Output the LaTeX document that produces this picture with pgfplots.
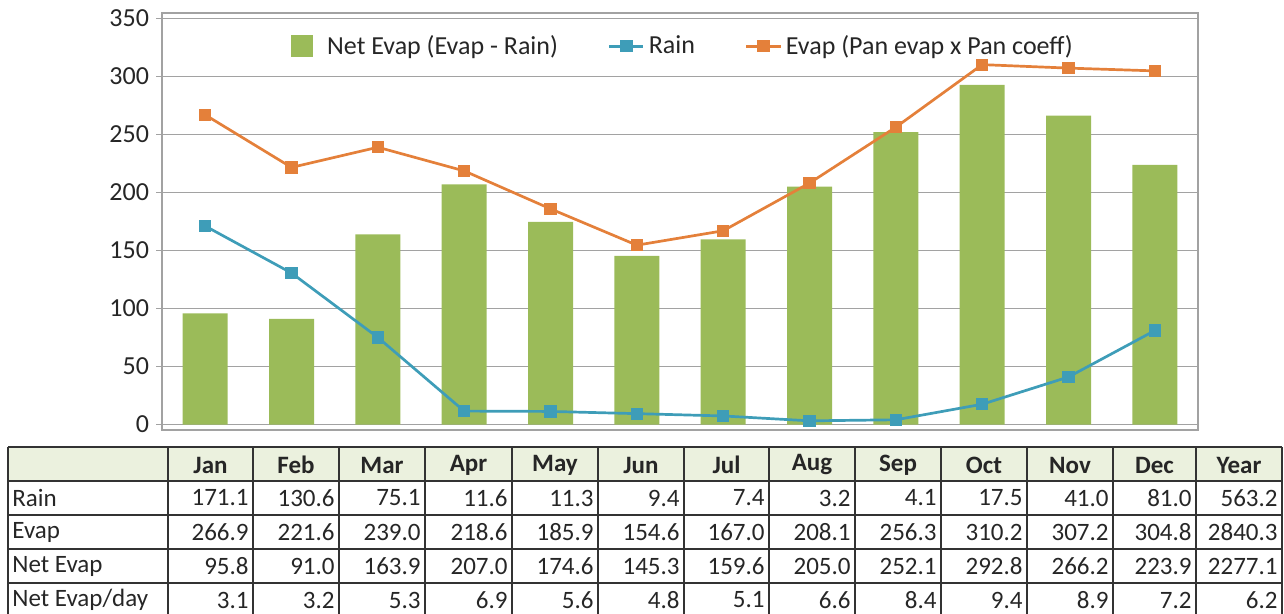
\documentclass[border=0pt]{standalone}
\usepackage{pgfplots}
\pgfplotsset{compat=1.18}
\usepackage{fontspec}
\setmainfont{Carlito}
\definecolor{barg}{HTML}{9BBB59}
\definecolor{rainc}{HTML}{3E9DB8}
\definecolor{evapc}{HTML}{E4803A}
\definecolor{gridc}{HTML}{A2A2A2}
\definecolor{hdr}{HTML}{EBF1DE}
\definecolor{txt}{HTML}{262626}
\begin{document}
\begin{tikzpicture}
\useasboundingbox (0,0) rectangle (642pt,-307pt);
\begin{axis}[
  at={(81pt,-215pt)}, anchor=south west,
  scale only axis, width=518pt, height=208.5pt,
  xmin=-0.5, xmax=11.5, ymin=-4.7, ymax=354.7,
  xtick=\empty, ytick={0,50,...,350},
  ymajorgrids, grid style={gridc, line width=0.85pt},
  axis line style={gridc, line width=1pt},
  tick style={gridc, line width=0.85pt}, major tick length=3pt,
  tick align=outside, ytick pos=left,
  /pgf/number format/assume math mode=true,
  yticklabel style={font=\fontsize{13}{13}\selectfont, text=txt},
  legend style={at={(0.5,1)}, anchor=north, yshift=-7pt, xshift=2pt, draw=none, fill=none,
    legend columns=3, font=\fontsize{13}{13}\selectfont, text=txt,
    /tikz/every even column/.append style={column sep=23pt}},
  legend cell align=left,
]
\addplot[ybar, bar width=22.5pt, bar shift=0pt, fill=barg, draw=none,
  area legend,
  legend image code/.code={\fill[barg] (-6pt,-5.5pt) rectangle (5pt,5.5pt); \path (10pt,0pt);}]
  coordinates {(0,95.8) (1,91.0) (2,163.9) (3,207.0) (4,174.6) (5,145.3)
               (6,159.6) (7,205.0) (8,252.1) (9,292.8) (10,266.2) (11,223.9)};
\addlegendentry{Net Evap (Evap - Rain)}
\addplot[rainc, line width=1.35pt, mark=square*, mark size=2.8pt,
  mark options={solid, fill=rainc, draw=rainc, line width=0pt}]
  coordinates {(0,171.1) (1,130.6) (2,75.1) (3,11.6) (4,11.3) (5,9.4)
               (6,7.4) (7,3.2) (8,4.1) (9,17.5) (10,41.0) (11,81.0)};
\addlegendentry{Rain}
\addplot[evapc, line width=1.35pt, mark=square*, mark size=2.8pt,
  mark options={solid, fill=evapc, draw=evapc, line width=0pt}]
  coordinates {(0,266.9) (1,221.6) (2,239.0) (3,218.6) (4,185.9) (5,154.6)
               (6,167.0) (7,208.1) (8,256.3) (9,310.2) (10,307.2) (11,304.8)};
\addlegendentry{Evap (Pan evap x Pan coeff)}
\end{axis}
\begin{scope}[x=0.5pt, y=-0.5pt]
  \fill[hdr] (8,447) rectangle (1282,481);
  \foreach \yy in {447,481,515,549,583}
    \draw[black!80, line width=0.9pt] (8,\yy) -- (1282,\yy);
  \foreach \xx in {8,168,253,339,425,512,598,684,769,855,941,1027,1113,1196,1282}
    \draw[black!80, line width=0.9pt] (\xx,447) -- (\xx,616);
  \foreach \lab [count=\k from 0] in {Rain,Evap,Net Evap,Net Evap/day}
    \node[anchor=west, inner sep=0pt, text=txt, font=\fontsize{12.5}{12.5}\selectfont]
      at (12,498+34*\k) {\lab};
  \foreach \l/\r/\m/\ra/\ev/\ne/\nd in {
      168/253/Jan/171.1/266.9/95.8/3.1,
      253/339/Feb/130.6/221.6/91.0/3.2,
      339/425/Mar/75.1/239.0/163.9/5.3,
      425/512/Apr/11.6/218.6/207.0/6.9,
      512/598/May/11.3/185.9/174.6/5.6,
      598/684/Jun/9.4/154.6/145.3/4.8,
      684/769/Jul/7.4/167.0/159.6/5.1,
      769/855/Aug/3.2/208.1/205.0/6.6,
      855/941/Sep/4.1/256.3/252.1/8.4,
      941/1027/Oct/17.5/310.2/292.8/9.4,
      1027/1113/Nov/41.0/307.2/266.2/8.9,
      1113/1196/Dec/81.0/304.8/223.9/7.2,
      1196/1282/Year/563.2/2840.3/2277.1/6.2}{
    \node[inner sep=0pt, text=txt, font=\fontsize{12.5}{12.5}\selectfont\bfseries]
      at ({(\l+\r)/2},465) {\m};
    \node[anchor=east, inner sep=0pt, text=txt, font=\fontsize{12.5}{12.5}\selectfont]
      at (\r-4,498) {\ra};
    \node[anchor=east, inner sep=0pt, text=txt, font=\fontsize{12.5}{12.5}\selectfont]
      at (\r-4,532) {\ev};
    \node[anchor=east, inner sep=0pt, text=txt, font=\fontsize{12.5}{12.5}\selectfont]
      at (\r-4,566) {\ne};
    \node[anchor=east, inner sep=0pt, text=txt, font=\fontsize{12.5}{12.5}\selectfont]
      at (\r-4,600) {\nd};
  }
\end{scope}
\end{tikzpicture}
\end{document}
